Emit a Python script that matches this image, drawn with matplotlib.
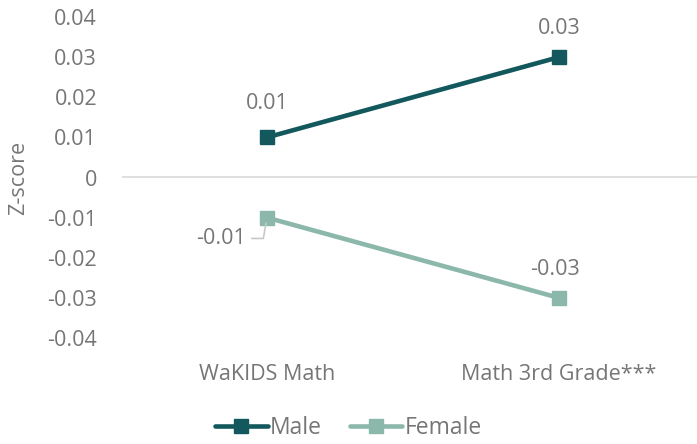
import matplotlib
matplotlib.use("Agg")
import matplotlib.pyplot as plt

categories = ["WaKIDS Math", "Math 3rd Grade***"]
male = [0.01, 0.03]
female = [-0.01, -0.03]
yticks = [0.04, 0.03, 0.02, 0.01, 0, -0.01, -0.02, -0.03, -0.04]
ytick_labels = ["0.04", "0.03", "0.02", "0.01", "0", "-0.01", "-0.02", "-0.03", "-0.04"]

male_color = "#12585d"
female_color = "#8bb8aa"
text_color = "#767676"

plt.rcParams['font.family'] = ['Open Sans', 'DejaVu Sans']
FS = 15.5

fig = plt.figure(figsize=(6.97, 4.44), dpi=100)
W, H = 697, 444
left, right, top, bottom = 122, 697, 17, 338
ax = fig.add_axes([left / W, (H - bottom) / H, (right - left) / W, (bottom - top) / H])

x = list(range(len(categories)))
ax.plot(x, male, color=male_color, lw=3.3, marker="s", markersize=10.5, label="Male",
        solid_capstyle="round", zorder=3)
ax.plot(x, female, color=female_color, lw=3.3, marker="s", markersize=10.5, label="Female",
        solid_capstyle="round", zorder=3)

ax.set_xlim(-0.4966, 1.4726)
ax.set_ylim(-0.04, 0.04)
ax.axhline(0, color="#d9d9d9", lw=1.2, zorder=1)

ax.set_yticks(yticks)
ax.set_yticklabels(ytick_labels)
ax.set_xticks(x)
ax.set_xticklabels(categories)
ax.tick_params(axis="both", length=0, labelsize=FS, colors=text_color)
ax.tick_params(axis="y", pad=18)
ax.tick_params(axis="x", pad=19)
for s in ax.spines.values():
    s.set_visible(False)

ax.set_ylabel("Z-score", fontsize=FS, color=text_color)
ax.yaxis.set_label_coords(-0.161, 0.5)

# data labels
ax.annotate(f"{male[0]:.2f}", (x[0], male[0]), xytext=(0, 17), textcoords="offset points",
            ha="center", va="bottom", fontsize=FS, color=text_color)
ax.annotate(f"{male[1]:.2f}", (x[1], male[1]), xytext=(0, 13), textcoords="offset points",
            ha="center", va="bottom", fontsize=FS, color=text_color)
ax.annotate(f"{female[0]:.2f}", (x[0], female[0]), xytext=(-15, -15), textcoords="offset points",
            ha="right", va="center", fontsize=FS, color=text_color,
            arrowprops=dict(arrowstyle="-", color="#c8c8c8", lw=1.2,
                            connectionstyle="angle,angleA=0,angleB=80,rad=0",
                            shrinkA=2, shrinkB=4))
ax.annotate(f"{female[1]:.2f}", (x[1], female[1]), xytext=(-3, 13), textcoords="offset points",
            ha="center", va="bottom", fontsize=FS, color=text_color)

leg = fig.legend(loc="center", bbox_to_anchor=(0.5, 1 - 428 / H), ncol=2, frameon=False,
                 fontsize=16.5, handlelength=2.3, columnspacing=1.2, handletextpad=0.1,
                 labelcolor=text_color)

fig.savefig("out.png", dpi=100)
